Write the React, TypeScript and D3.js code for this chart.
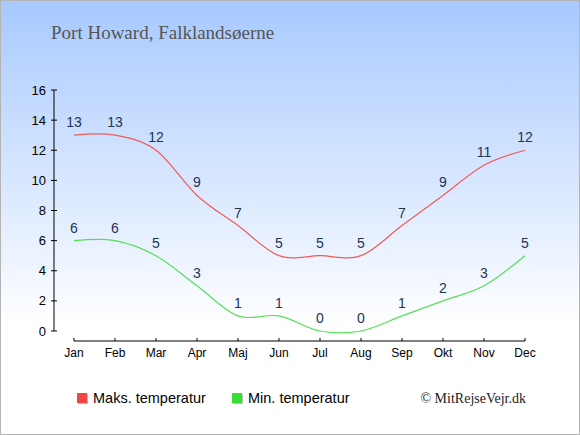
import * as d3 from "d3";
import React, { useEffect, useRef } from "react";

const months = ["Jan", "Feb", "Mar", "Apr", "Maj", "Jun", "Jul", "Aug", "Sep", "Okt", "Nov", "Dec"];
const maxTemp = [13, 13, 12, 9, 7, 5, 5, 5, 7, 9, 11, 12];
const minTemp = [6, 6, 5, 3, 1, 1, 0, 0, 1, 2, 3, 5];
const yTicks = [0, 2, 4, 6, 8, 10, 12, 14, 16];
const seriesNames = ["Maks. temperatur", "Min. temperatur"];

const App: React.FC = () => {
  const ref = useRef<SVGSVGElement>(null);

  useEffect(() => {
    const width = 580;
    const height = 435;
    const font = "'Liberation Sans', Arial, sans-serif";

    d3.select(ref.current).selectAll("*").remove();
    const svg = d3.select(ref.current).attr("width", width).attr("height", height);

    // Background gradient
    const grad = svg.append("defs").append("linearGradient")
      .attr("id", "bg").attr("x1", 0).attr("y1", 0).attr("x2", 0).attr("y2", 1);
    grad.append("stop").attr("offset", "0%").attr("stop-color", "#a7c9ff");
    grad.append("stop").attr("offset", "75%").attr("stop-color", "#ffffff");
    grad.append("stop").attr("offset", "100%").attr("stop-color", "#ffffff");

    svg.append("rect")
      .attr("x", 0.5).attr("y", 0.5)
      .attr("width", width - 1).attr("height", height - 1)
      .attr("fill", "url(#bg)")
      .attr("stroke", "#b4b4b4");

    // Title
    svg.append("text")
      .attr("x", 51).attr("y", 39)
      .style("font-family", "'Liberation Serif', 'Times New Roman', serif")
      .style("font-size", "19px")
      .attr("fill", "#555555")
      .text("Port Howard, Falklandsøerne");

    const x = d3.scalePoint<string>().domain(months).range([74, 525]);
    const y = d3.scaleLinear().domain([0, 16]).range([331, 90]);

    // Y axis
    const yAxis = svg.append("g").attr("transform", "translate(54,0)");
    yAxis.append("line").attr("x1", 0).attr("x2", 0).attr("y1", y(16)).attr("y2", y(0)).attr("stroke", "#000");
    yTicks.forEach((t) => {
      yAxis.append("line").attr("x1", -3).attr("x2", 3).attr("y1", y(t)).attr("y2", y(t)).attr("stroke", "#000");
      yAxis.append("text")
        .attr("x", -8).attr("y", y(t))
        .attr("dy", "0.35em")
        .attr("text-anchor", "end")
        .style("font-family", font).style("font-size", "13px")
        .style("fill", "#000")
        .text(t);
    });

    // X axis
    const xAxisY = 341;
    const xAxis = svg.append("g");
    xAxis.append("line").attr("x1", x("Jan")!).attr("x2", x("Dec")!).attr("y1", xAxisY).attr("y2", xAxisY).attr("stroke", "#000");
    months.forEach((m) => {
      xAxis.append("line").attr("x1", x(m)!).attr("x2", x(m)!).attr("y1", xAxisY - 3).attr("y2", xAxisY).attr("stroke", "#000");
      xAxis.append("text")
        .attr("x", x(m)!).attr("y", 357)
        .attr("text-anchor", "middle")
        .style("font-family", font).style("font-size", "12px")
        .style("fill", "#000")
        .text(m);
    });

    const line = d3.line<number>()
      .x((_, i) => x(months[i])!)
      .y((d) => y(d))
      .curve(d3.curveCardinal.tension(0));

    const series = [
      { values: maxTemp, color: "#f25a5a" },
      { values: minTemp, color: "#55e055" },
    ];

    series.forEach((s) => {
      svg.append("path")
        .attr("d", line(s.values))
        .attr("fill", "none")
        .attr("stroke", s.color)
        .attr("stroke-width", 1.2);
    });

    // Value labels on top of lines
    series.forEach((s) => {
      s.values.forEach((d, i) => {
        svg.append("text")
          .attr("x", x(months[i])!)
          .attr("y", y(d) - 8)
          .attr("text-anchor", "middle")
          .style("font-family", font).style("font-size", "14px")
          .style("fill", "#1d3458")
          .text(d);
      });
    });

    // Legend
    const legendColors = ["#ef4747", "#33e033"];
    const legendX = [77, 232];
    seriesNames.forEach((name, i) => {
      const g = svg.append("g").attr("transform", `translate(${legendX[i]},393)`);
      g.append("rect").attr("x", 1).attr("y", 1).attr("width", 10).attr("height", 10).attr("fill", "#bbbbbb");
      g.append("rect").attr("x", 0).attr("y", 0).attr("width", 10).attr("height", 10).attr("fill", legendColors[i]);
      g.append("text")
        .attr("x", 16).attr("y", 10)
        .style("font-family", font).style("font-size", "14.5px")
        .style("fill", "#000")
        .text(name);
    });

    // Copyright
    svg.append("text")
      .attr("x", 526).attr("y", 403)
      .attr("text-anchor", "end")
      .style("font-family", "'Liberation Serif', 'Times New Roman', serif")
      .style("font-size", "14px")
      .style("fill", "#222")
      .text("© MitRejseVejr.dk");
  }, []);

  return <svg ref={ref} style={{ position: "absolute", left: 0, top: 0 }}></svg>;
};

export default App;
